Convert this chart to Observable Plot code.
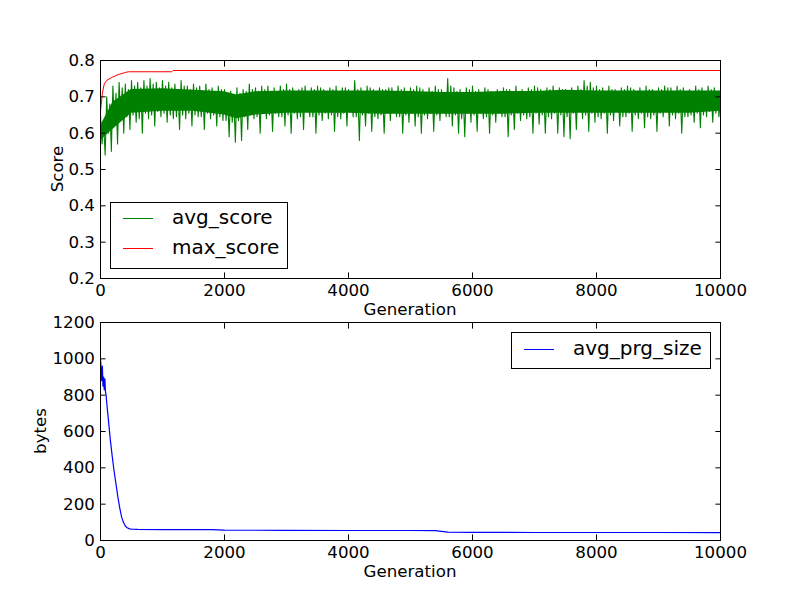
<!DOCTYPE html>
<html>
<head>
<meta charset="utf-8">
<script src="https://cdn.jsdelivr.net/npm/d3@7"></script>
<script src="https://cdn.jsdelivr.net/npm/@observablehq/plot@0.6"></script>
<style>
  body { margin: 0; background: white; }
  #fig { position: relative; width: 800px; height: 600px; font-family: "DejaVu Sans", sans-serif; }
  #fig svg { position: absolute; left: 0; overflow: visible; }
  .lbl { position: absolute; font-size: 16.67px; color: black; white-space: nowrap; }
  .legend { position: absolute; border: 1px solid black; background: white; box-sizing: border-box; }
  .lg-line { position: absolute; height: 0; border-top: 1px solid; width: 30px; }
  .lg-text { position: absolute; font-size: 20px; line-height: 20px; white-space: nowrap; }
</style>
</head>
<body>
<div id="fig"></div>
<script>
// ---- data: top panel ----
// avg_score, per 100-generation bin: main peak (avgHi), secondary trough (avgLo2),
// secondary peak (avgHi2), main trough (avgLo)
const avgHi = [0.65,0.70,0.73,0.74,0.735,0.745,0.74,0.745,0.75,0.74,
  0.745,0.74,0.735,0.745,0.73,0.735,0.73,0.735,0.725,0.73,
  0.72,0.715,0.725,0.72,0.735,0.725,0.73,0.73,0.725,0.73,
  0.735,0.725,0.72,0.73,0.725,0.73,0.72,0.725,0.73,0.725,
  0.72,0.745,0.725,0.73,0.72,0.725,0.72,0.725,0.73,0.725,
  0.725,0.73,0.72,0.725,0.73,0.72,0.75,0.725,0.72,0.725,
  0.73,0.72,0.725,0.715,0.72,0.725,0.72,0.73,0.72,0.725,
  0.73,0.72,0.725,0.73,0.725,0.72,0.725,0.73,0.745,0.74,
  0.73,0.725,0.73,0.72,0.725,0.73,0.72,0.725,0.73,0.72,
  0.725,0.73,0.725,0.73,0.725,0.72,0.73,0.725,0.73,0.725];
const avgLo = [0.54,0.55,0.57,0.60,0.61,0.63,0.60,0.64,0.62,0.645,
  0.63,0.64,0.61,0.64,0.62,0.645,0.61,0.64,0.62,0.635,
  0.59,0.575,0.58,0.61,0.64,0.60,0.64,0.605,0.645,0.62,
  0.60,0.64,0.61,0.645,0.60,0.635,0.64,0.605,0.64,0.62,
  0.645,0.58,0.62,0.605,0.64,0.60,0.635,0.645,0.60,0.63,
  0.62,0.60,0.64,0.605,0.635,0.645,0.62,0.60,0.59,0.63,
  0.605,0.64,0.60,0.63,0.645,0.59,0.61,0.635,0.64,0.60,
  0.625,0.60,0.64,0.60,0.59,0.585,0.61,0.64,0.605,0.63,
  0.64,0.60,0.635,0.62,0.645,0.605,0.64,0.615,0.64,0.605,
  0.645,0.62,0.64,0.60,0.645,0.63,0.615,0.645,0.63,0.645];
const avgHi2 = [0.63,0.68,0.71,0.725,0.72,0.73,0.725,0.73,0.735,0.725,
  0.73,0.725,0.72,0.73,0.72,0.725,0.715,0.72,0.715,0.72,
  0.705,0.70,0.71,0.715,0.72,0.715,0.72,0.715,0.71,0.72,
  0.72,0.715,0.725,0.71,0.72,0.725,0.715,0.72,0.71,0.725,
  0.715,0.72,0.71,0.725,0.715,0.72,0.725,0.71,0.72,0.715,
  0.72,0.725,0.71,0.715,0.72,0.71,0.73,0.715,0.71,0.72,
  0.715,0.71,0.72,0.705,0.715,0.72,0.71,0.715,0.71,0.72,
  0.725,0.71,0.72,0.715,0.72,0.71,0.715,0.72,0.73,0.725,
  0.72,0.715,0.72,0.71,0.72,0.725,0.71,0.715,0.72,0.71,
  0.72,0.725,0.715,0.72,0.715,0.71,0.72,0.715,0.72,0.715];
const avgLo2 = [0.57,0.60,0.62,0.64,0.645,0.65,0.64,0.655,0.65,0.66,
  0.655,0.65,0.645,0.65,0.655,0.65,0.645,0.655,0.65,0.645,
  0.635,0.63,0.635,0.645,0.65,0.645,0.655,0.65,0.655,0.645,
  0.65,0.655,0.645,0.66,0.645,0.65,0.655,0.65,0.645,0.655,
  0.66,0.645,0.65,0.655,0.645,0.65,0.655,0.66,0.645,0.65,
  0.655,0.645,0.65,0.655,0.65,0.66,0.645,0.65,0.64,0.655,
  0.65,0.655,0.645,0.65,0.655,0.645,0.65,0.655,0.65,0.645,
  0.655,0.65,0.645,0.655,0.65,0.645,0.655,0.66,0.65,0.655,
  0.645,0.655,0.65,0.66,0.645,0.655,0.65,0.655,0.645,0.65,
  0.655,0.66,0.65,0.655,0.645,0.65,0.655,0.65,0.66,0.655];
// dense core band of avg_score
const coreGen = [0,200,500,1000,1500,2000,2200,2500,3000,3500,4000,4500,5000,5500,6000,6500,7000,7500,8000,8500,9000,9500,10000];
const coreHi  = [0.62,0.685,0.72,0.722,0.718,0.714,0.705,0.714,0.716,0.716,0.716,0.716,0.715,0.712,0.712,0.715,0.715,0.718,0.716,0.716,0.716,0.716,0.716];
const coreLo  = [0.58,0.61,0.655,0.66,0.66,0.65,0.64,0.65,0.655,0.655,0.655,0.652,0.652,0.652,0.652,0.652,0.655,0.655,0.655,0.655,0.655,0.655,0.66];
// max_score
const maxGen = [0,30,60,100,200,300,400,450,1150,1170,10000];
const maxVal = [0.66,0.71,0.735,0.745,0.755,0.762,0.767,0.769,0.769,0.7725,0.7725];

// ---- data: bottom panel ----
const prgGen = [0,10,20,30,40,50,60,70,80,90,100,120,140,160,190,220,250,280,310,340,370,400,430,470,520,600,1000,1800,2000,3000,4000,5000,5400,5500,5600,6000,7000,8000,9000,10000];
const prgVal = [1000,950,880,960,850,900,830,890,820,800,760,690,620,550,460,380,310,240,180,130,100,80,70,64,62,61,60,60,57,56,55,55,54,50,46,45,44,44,44,43];

// ---- tick values ----
const xTicks = [0,2000,4000,6000,8000,10000];
const scoreTicks = [0.2,0.3,0.4,0.5,0.6,0.7,0.8];
const bytesTicks = [0,200,400,600,800,1000,1200];

// ---- build tables ----
const avgData = [];
avgHi.forEach((h, i) => {
  avgData.push({g: i * 100, v: h});
  avgData.push({g: i * 100 + 25, v: avgLo2[i]});
  avgData.push({g: i * 100 + 50, v: avgHi2[i]});
  avgData.push({g: i * 100 + 75, v: avgLo[i]});
});
avgData.push({g: 10000, v: 0.70});
const coreData = coreGen.map((g, i) => ({g, hi: coreHi[i], lo: coreLo[i]}));
const maxData = maxGen.map((g, i) => ({g, v: maxVal[i]}));
const prgData = prgGen.map((g, i) => ({g, v: prgVal[i]}));

const TS = -5.6, TP = 11.2;
function axes(yTicks, yFmt) {
  return [
    Plot.axisX({anchor: "bottom", ticks: xTicks, tickSize: TS, tickPadding: TP, label: null, tickFormat: d => String(d)}),
    Plot.axisX({anchor: "top", ticks: xTicks, tickSize: TS, tickPadding: 0, label: null, tickFormat: () => ""}),
    Plot.axisY({anchor: "left", ticks: yTicks, tickSize: TS, tickPadding: TP, label: null, tickFormat: yFmt}),
    Plot.axisY({anchor: "right", ticks: yTicks, tickSize: TS, tickPadding: 0, label: null, tickFormat: () => ""}),
    Plot.frame({stroke: "black", strokeWidth: 1})
  ];
}
const plotStyle = {fontFamily: "DejaVu Sans", fontSize: "16.67px", background: "transparent", overflow: "visible", color: "black"};

const topChart = Plot.plot({
  width: 800, height: 300,
  marginTop: 60, marginBottom: 22, marginLeft: 100, marginRight: 80,
  style: plotStyle,
  x: {domain: [0, 10000]},
  y: {domain: [0.2, 0.8]},
  marks: [
    Plot.areaY(coreData, {x: "g", y1: "lo", y2: "hi", fill: "#008000", clip: true}),
    Plot.line(avgData, {x: "g", y: "v", stroke: "#008000", strokeWidth: 1.1, clip: true}),
    Plot.line(maxData, {x: "g", y: "v", stroke: "#ff0000", strokeWidth: 1, clip: true}),
    ...axes(scoreTicks, d => d.toFixed(1))
  ]
});
topChart.style.top = "0px";

const bottomChart = Plot.plot({
  width: 800, height: 300,
  marginTop: 22, marginBottom: 60, marginLeft: 100, marginRight: 80,
  style: plotStyle,
  x: {domain: [0, 10000]},
  y: {domain: [0, 1200]},
  marks: [
    Plot.line(prgData, {x: "g", y: "v", stroke: "#0000ff", strokeWidth: 1.2, clip: true}),
    ...axes(bytesTicks, d => String(d))
  ]
});
bottomChart.style.top = "300px";

const fig = document.getElementById("fig");
fig.appendChild(topChart);
fig.appendChild(bottomChart);

function addLabel(text, x, y, rotate) {
  const d = document.createElement("div");
  d.className = "lbl";
  d.textContent = text;
  d.style.left = x + "px";
  d.style.top = y + "px";
  d.style.transform = "translate(-50%,-50%)" + (rotate ? " rotate(-90deg)" : "");
  fig.appendChild(d);
}
addLabel("Generation", 410, 309, false);
addLabel("Generation", 410, 571, false);
addLabel("Score", 57, 169, true);
addLabel("bytes", 40, 431, true);

function addLegend(box, entries) {
  const L = document.createElement("div");
  L.className = "legend";
  L.style.left = box.x + "px"; L.style.top = box.y + "px";
  L.style.width = box.w + "px"; L.style.height = box.h + "px";
  fig.appendChild(L);
  entries.forEach(e => {
    const ln = document.createElement("div");
    ln.className = "lg-line";
    ln.style.borderTopColor = e.color;
    ln.style.left = (box.x + 13) + "px";
    ln.style.top = e.y + "px";
    fig.appendChild(ln);
    const t = document.createElement("div");
    t.className = "lg-text";
    t.textContent = e.label;
    t.style.left = (box.x + 62) + "px";
    t.style.top = (e.y - 11) + "px";
    fig.appendChild(t);
  });
}
addLegend({x: 110, y: 202, w: 178, h: 67}, [
  {label: "avg_score", color: "#008000", y: 218},
  {label: "max_score", color: "#ff0000", y: 248}
]);
addLegend({x: 511, y: 332, w: 200, h: 37}, [
  {label: "avg_prg_size", color: "#0000ff", y: 349}
]);
</script>
</body>
</html>
